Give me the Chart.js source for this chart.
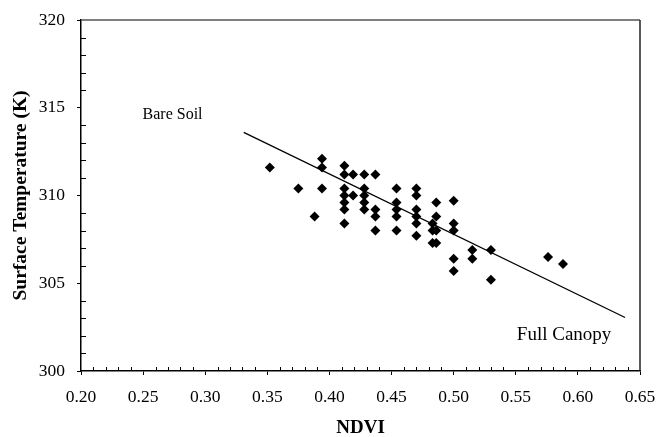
<!DOCTYPE html>
<html>
<head>
<meta charset="utf-8">
<script src="https://cdn.jsdelivr.net/npm/chart.js@4.4.1/dist/chart.umd.min.js"></script>
<style>
  html, body { margin: 0; padding: 0; background: #fff; }
  #wrap { width: 664px; height: 437px; }
</style>
</head>
<body>
<div id="wrap"><canvas id="chart" width="664" height="437"></canvas></div>
<script>
// NDVI vs surface temperature observations
const ndvi = [
  0.352, 0.375, 0.388, 0.394, 0.394, 0.394,
  0.412, 0.412, 0.412, 0.412, 0.412, 0.412, 0.412,
  0.419, 0.419,
  0.428, 0.428, 0.428, 0.428, 0.428,
  0.437, 0.437, 0.437, 0.437,
  0.454, 0.454, 0.454, 0.454, 0.454,
  0.470, 0.470, 0.470, 0.470, 0.470, 0.470,
  0.483, 0.483, 0.483,
  0.486, 0.486, 0.486, 0.486,
  0.500, 0.500, 0.500, 0.500, 0.500,
  0.515, 0.515,
  0.530, 0.530,
  0.576, 0.588
];
const temp = [
  311.6, 310.4, 308.8, 312.1, 311.6, 310.4,
  311.7, 311.2, 310.4, 310.0, 309.6, 309.2, 308.4,
  311.2, 310.0,
  311.2, 310.4, 310.0, 309.6, 309.2,
  311.2, 309.2, 308.8, 308.0,
  310.4, 309.6, 309.2, 308.8, 308.0,
  310.4, 310.0, 309.2, 308.8, 308.4, 307.7,
  308.4, 308.0, 307.3,
  309.6, 308.8, 308.0, 307.3,
  309.7, 308.4, 308.0, 306.4, 305.7,
  306.9, 306.4,
  306.9, 305.2,
  306.5, 306.1
];

// fitted line end points
const fitX = [0.331, 0.638];
const fitY = [313.6, 303.05];

// axis tick values
const xTicks = [0.20, 0.25, 0.30, 0.35, 0.40, 0.45, 0.50, 0.55, 0.60, 0.65];
const yTicks = [300, 305, 310, 315, 320];

// text notes placed in data units
const notes = [
  { text: 'Bare Soil', x: 0.2737, y: 314.6, size: 16 },
  { text: 'Full Canopy', x: 0.5889, y: 302.05, size: 19 }
];

const serif = '"Liberation Serif", "Times New Roman", serif';

const points = ndvi.map((v, i) => ({ x: v, y: temp[i] }));
const fitLine = fitX.map((v, i) => ({ x: v, y: fitY[i] }));

// frame, minor ticks and text notes
const extras = {
  id: 'extras',
  afterDraw(chart) {
    const ctx = chart.ctx;
    const a = chart.chartArea;
    const xs = chart.scales.x, ys = chart.scales.y;
    ctx.save();
    ctx.strokeStyle = '#000';
    ctx.lineWidth = 1;
    // minor ticks point inward
    ctx.beginPath();
    for (let i = 1; i < 45; i++) {
      if (i % 5 === 0) continue;
      const px = Math.round(xs.getPixelForValue(0.2 + i * 0.01)) + 0.5;
      ctx.moveTo(px, a.bottom);
      ctx.lineTo(px, a.bottom - 4);
    }
    for (let i = 1; i < 20; i++) {
      if (i % 5 === 0) continue;
      const py = Math.round(ys.getPixelForValue(300 + i)) + 0.5;
      ctx.moveTo(a.left, py);
      ctx.lineTo(a.left + 5, py);
    }
    ctx.stroke();
    // top and right sides of the frame
    ctx.lineWidth = 1.5;
    ctx.strokeStyle = '#555';
    ctx.beginPath();
    ctx.moveTo(a.left, a.top);
    ctx.lineTo(a.right, a.top);
    ctx.stroke();
    ctx.strokeStyle = '#222';
    ctx.beginPath();
    ctx.moveTo(a.right, a.top);
    ctx.lineTo(a.right, a.bottom);
    ctx.stroke();
    // notes
    ctx.fillStyle = '#000';
    ctx.textAlign = 'center';
    ctx.textBaseline = 'middle';
    notes.forEach(n => {
      ctx.font = n.size + 'px ' + serif;
      ctx.fillText(n.text, xs.getPixelForValue(n.x), ys.getPixelForValue(n.y));
    });
    ctx.restore();
  }
};

new Chart(document.getElementById('chart'), {
  type: 'scatter',
  data: {
    datasets: [
      {
        data: points,
        pointStyle: 'rectRot',
        pointRadius: 5,
        backgroundColor: '#000',
        borderColor: '#000',
        borderWidth: 0
      },
      {
        type: 'line',
        data: fitLine,
        showLine: true,
        borderColor: '#000',
        borderWidth: 1.3,
        pointRadius: 0,
        fill: false
      }
    ]
  },
  options: {
    responsive: false,
    animation: false,
    events: [],
    layout: { padding: { left: 0, right: 24, top: 20, bottom: 0 } },
    plugins: {
      legend: { display: false },
      tooltip: { enabled: false }
    },
    scales: {
      x: {
        type: 'linear',
        min: 0.2,
        max: 0.65,
        afterBuildTicks: s => { s.ticks = xTicks.map(v => ({ value: v })); },
        afterFit: s => { s.height = 66; s.paddingLeft = 0; s.paddingRight = 0; },
        border: { display: true, color: '#000', width: 1.5 },
        grid: { drawOnChartArea: false, drawTicks: true, tickLength: 4, color: '#000' },
        ticks: {
          color: '#000',
          padding: 12,
          font: { family: serif, size: 17.5 },
          callback: v => v.toFixed(2)
        },
        title: {
          display: true,
          text: 'NDVI',
          color: '#000',
          font: { family: serif, size: 19, weight: 'bold', lineHeight: 0.9 },
          padding: { top: 0, bottom: 0 }
        }
      },
      y: {
        type: 'linear',
        min: 300,
        max: 320,
        afterBuildTicks: s => { s.ticks = yTicks.map(v => ({ value: v })); },
        afterFit: s => { s.width = 81; s.paddingTop = 0; s.paddingBottom = 0; },
        border: { display: true, color: '#000', width: 1.5 },
        grid: { drawOnChartArea: false, drawTicks: true, tickLength: 4, color: '#000' },
        ticks: {
          color: '#000',
          padding: 12,
          font: { family: serif, size: 17.5 },
          callback: v => String(v)
        },
        title: {
          display: true,
          text: 'Surface Temperature (K)',
          color: '#000',
          font: { family: serif, size: 19.5, weight: 'bold', lineHeight: 1.2 },
          padding: { top: 9, bottom: 0 }
        }
      }
    }
  },
  plugins: [extras]
});
</script>
</body>
</html>
